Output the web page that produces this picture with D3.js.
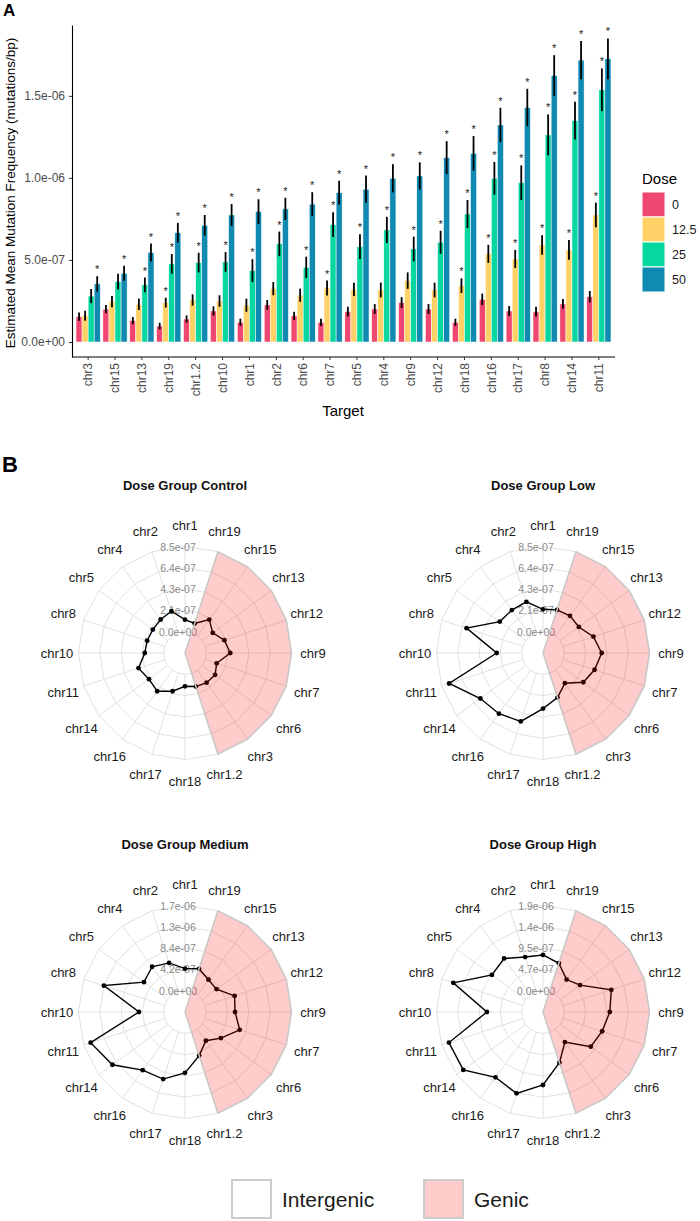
<!DOCTYPE html>
<html lang="en">
<head>
<meta charset="UTF-8">
<title>Mutation frequency by dose</title>
<script src="https://cdn.jsdelivr.net/npm/d3@7"></script>
<style>
  body { margin: 0; background: #fff; font-family: "Liberation Sans", Arial, sans-serif; }
  svg text { font-family: "Liberation Sans", Arial, sans-serif; }
</style>
</head>
<body>
<script>
// ---- data (frequencies in units of 1e-7 mutations/bp) ----
const unit = 1e-7;
const targets = ["chr3","chr15","chr13","chr19","chr1.2","chr10","chr1","chr2","chr6","chr7",
                 "chr5","chr4","chr9","chr12","chr18","chr16","chr17","chr8","chr14","chr11"];
const doses = ["0", "12.5", "25", "50"];
const doseColors = ["#EF476F", "#FFD166", "#06D6A0", "#118AB2"];

const freq0  = [1.54, 2.00, 1.30, 0.97, 1.40, 1.89, 1.20, 2.26, 1.59, 1.20, 1.85, 2.01, 2.40, 2.01, 1.20, 2.60, 1.89, 1.85, 2.32, 2.76];
const freq12 = [1.60, 2.46, 2.30, 2.40, 2.56, 2.50, 2.24, 3.25, 2.85, 3.29, 3.21, 3.17, 3.74, 3.17, 3.43, 5.37, 5.06, 5.91, 5.61, 7.74];
const freq25 = [2.80, 3.68, 3.48, 4.76, 4.84, 4.88, 4.35, 5.98, 4.55, 7.15, 5.81, 6.83, 5.67, 6.08, 7.80, 9.98, 9.71, 12.62, 13.49, 15.37];
const freq50 = [3.54, 4.19, 5.45, 6.66, 7.11, 7.74, 7.95, 8.11, 8.40, 9.10, 9.31, 9.98, 10.12, 11.24, 11.50, 13.23, 14.29, 16.24, 17.18, 17.26];

const err0  = [0.25, 0.25, 0.22, 0.20, 0.22, 0.28, 0.22, 0.30, 0.25, 0.22, 0.30, 0.30, 0.33, 0.30, 0.22, 0.35, 0.30, 0.30, 0.30, 0.35];
const err12 = [0.30, 0.35, 0.35, 0.30, 0.35, 0.35, 0.40, 0.40, 0.40, 0.45, 0.40, 0.45, 0.50, 0.45, 0.45, 0.55, 0.55, 0.60, 0.60, 0.75];
const err25 = [0.43, 0.48, 0.45, 0.60, 0.60, 0.60, 0.70, 0.75, 0.65, 0.75, 0.75, 0.80, 0.75, 0.70, 0.85, 1.00, 1.05, 1.25, 1.15, 1.30];
const err50 = [0.47, 0.46, 0.55, 0.60, 0.63, 0.67, 0.75, 0.68, 0.73, 0.73, 0.83, 0.86, 0.83, 1.00, 1.05, 1.05, 1.14, 1.24, 1.17, 1.24];

// 1 = significant (asterisk)
const sig0  = [0,0,0,0,0,0,0,0,0,0,0,0,0,0,0,0,0,0,0,0];
const sig12 = [0,0,0,1,0,0,0,0,0,1,0,0,0,0,1,1,1,1,1,1];
const sig25 = [0,0,1,1,1,1,1,1,1,1,1,1,1,1,1,1,1,1,1,1];
const sig50 = [1,1,1,1,1,1,1,1,1,1,1,1,1,1,1,1,1,1,1,1];

const yTicks = [0, 5e-7, 1e-6, 1.5e-6];

// radar panels
const radarAxes = ["chr1","chr19","chr15","chr13","chr12","chr9","chr7","chr6","chr3","chr1.2",
                   "chr18","chr17","chr16","chr14","chr11","chr10","chr8","chr5","chr4","chr2"];
const genicTargets = ["chr19","chr15","chr13","chr12","chr9","chr7","chr6","chr3","chr1.2"];
const groupNames = ["Control", "Low", "Medium", "High"];
const radarMax = [8.52e-7, 8.52e-7, 1.68e-6, 1.895e-6];
const regionLabels = ["Intergenic", "Genic"];

const barSeries = [freq0, freq12, freq25, freq50];
const errSeries = [err0, err12, err25, err50];
const sigSeries = [sig0, sig12, sig25, sig50];

// ---- helpers ----
const fmtE = v => v.toExponential(1).replace(/e([+-])(\d)$/, "e$10$2");

const svg = d3.select("body").append("svg")
  .attr("width", 700).attr("height", 1221);

// ================= Panel A =================
svg.append("text").attr("x", 3).attr("y", 16)
  .attr("font-size", 17).attr("font-weight", "bold").text("A");

const x = d3.scaleBand().domain(targets).range([72, 615])
  .paddingInner(0.1).paddingOuter(0.15);
const xd = d3.scaleBand().domain(doses).range([0, x.bandwidth()]);
const y = d3.scaleLinear().domain([-0.0915e-6, 1.932e-6]).range([357, 25]);

const bars = [];
targets.forEach((t, i) => doses.forEach((d, j) => bars.push({
  t, d, c: doseColors[j],
  v: barSeries[j][i] * unit,
  e: errSeries[j][i] * unit,
  sig: sigSeries[j][i]
})));

const gA = svg.append("g");

gA.selectAll("rect.bar").data(bars).join("rect")
  .attr("class", "bar")
  .attr("x", d => x(d.t) + xd(d.d))
  .attr("width", xd.bandwidth())
  .attr("y", d => y(d.v))
  .attr("height", d => y(0) - y(d.v))
  .attr("fill", d => d.c)
  .attr("stroke", "#fff").attr("stroke-width", 0.5);

gA.selectAll("line.err").data(bars).join("line")
  .attr("class", "err")
  .attr("x1", d => x(d.t) + xd(d.d) + xd.bandwidth() / 2)
  .attr("x2", d => x(d.t) + xd(d.d) + xd.bandwidth() / 2)
  .attr("y1", d => y(d.v - d.e))
  .attr("y2", d => y(d.v + d.e))
  .attr("stroke", "#000").attr("stroke-width", 1.8);

gA.selectAll("text.star").data(bars.filter(d => d.sig)).join("text")
  .attr("class", "star")
  .attr("x", d => x(d.t) + xd(d.d) + xd.bandwidth() / 2)
  .attr("y", d => y(d.v + d.e) - 3)
  .attr("text-anchor", "middle")
  .attr("font-size", 11).attr("fill", "#222")
  .text("*");

const yAxis = gA.append("g").attr("transform", "translate(72,0)")
  .call(d3.axisLeft(y).tickValues(yTicks).tickFormat(fmtE).tickSize(3).tickSizeOuter(0).tickPadding(4));
yAxis.select(".domain").attr("stroke", "#000").attr("stroke-width", 1.1);
yAxis.selectAll(".tick line").attr("stroke", "#333");
yAxis.selectAll(".tick text").attr("fill", "#4d4d4d").attr("font-size", 12);

const xAxis = gA.append("g").attr("transform", "translate(0,357)")
  .call(d3.axisBottom(x).tickSize(3).tickSizeOuter(0));
xAxis.select(".domain").attr("stroke", "#000").attr("stroke-width", 1.1)
  .attr("d", "M72,0H615");
xAxis.selectAll(".tick line").attr("stroke", "#333");
xAxis.selectAll(".tick text")
  .attr("transform", "rotate(-90)")
  .attr("x", -6).attr("y", 0).attr("dy", "0.35em")
  .attr("text-anchor", "end")
  .attr("fill", "#4d4d4d").attr("font-size", 12);

svg.append("text").attr("x", 343).attr("y", 410)
  .attr("text-anchor", "middle").attr("dominant-baseline", "central")
  .attr("font-size", 15).attr("fill", "#000").text("Target");

svg.append("text")
  .attr("transform", "translate(10,193) rotate(-90)")
  .attr("text-anchor", "middle").attr("dominant-baseline", "central")
  .attr("font-size", 13.5).attr("fill", "#000")
  .text("Estimated Mean Mutation Frequency (mutations/bp)");

// legend
const leg = svg.append("g").attr("transform", "translate(642,0)");
leg.append("text").attr("x", 0).attr("y", 178).attr("dominant-baseline", "central")
  .attr("font-size", 15).text("Dose");
leg.selectAll("rect").data(doses).join("rect")
  .attr("x", 0).attr("y", (d, i) => 192 + i * 25)
  .attr("width", 23).attr("height", 25)
  .attr("fill", (d, i) => doseColors[i])
  .attr("stroke", "#fff").attr("stroke-width", 1);
leg.selectAll("text.lab").data(doses).join("text")
  .attr("class", "lab")
  .attr("x", 30).attr("y", (d, i) => 192 + i * 25 + 12.5)
  .attr("dominant-baseline", "central")
  .attr("font-size", 12.5).attr("fill", "#1a1a1a")
  .text(d => d);

// ================= Panel B =================
svg.append("text").attr("x", 2).attr("y", 472)
  .attr("font-size", 22).attr("font-weight", "bold").text("B");

const R = 106.5;
const step = 2 * Math.PI / radarAxes.length;
const centers = [[185, 653], [543, 653], [185, 1012], [543, 1012]];

function drawRadar(j) {
  const [cx, cy] = centers[j];
  const maxV = radarMax[j];
  const r = d3.scaleLinear().domain([-maxV / 4, maxV]).range([0, R]);
  const ticks = d3.range(5).map(k => k * maxV / 4);
  const vals = radarAxes.map(a => barSeries[j][targets.indexOf(a)] * unit);
  const g = svg.append("g").attr("transform", `translate(${cx},${cy})`);

  svg.append("text").attr("x", cx).attr("y", cy - 168)
    .attr("text-anchor", "middle").attr("dominant-baseline", "central")
    .attr("font-size", 13).attr("font-weight", "bold").attr("fill", "#111")
    .text("Dose Group " + groupNames[j]);

  const ring = d3.lineRadial().angle((d, i) => i * step).radius(d => d)
    .curve(d3.curveLinearClosed);

  g.selectAll("path.ring").data(ticks).join("path")
    .attr("class", "ring")
    .attr("d", t => ring(radarAxes.map(() => r(t))))
    .attr("fill", "none").attr("stroke", "#d9d9d9").attr("stroke-width", 0.8);

  g.selectAll("line.spoke").data(radarAxes).join("line")
    .attr("class", "spoke")
    .attr("x1", (d, i) => r(0) * Math.sin(i * step))
    .attr("y1", (d, i) => -r(0) * Math.cos(i * step))
    .attr("x2", (d, i) => R * Math.sin(i * step))
    .attr("y2", (d, i) => -R * Math.cos(i * step))
    .attr("stroke", "#d9d9d9").attr("stroke-width", 0.8);

  g.selectAll("text.tick").data(ticks).join("text")
    .attr("class", "tick")
    .attr("x", -7).attr("y", t => -r(t))
    .attr("text-anchor", "middle").attr("dominant-baseline", "central")
    .attr("font-size", 10.5).attr("fill", "#8a8a8a")
    .text(fmtE);

  const line = d3.lineRadial().angle((d, i) => i * step).radius(d => r(d))
    .curve(d3.curveLinearClosed);
  g.append("path").attr("d", line(vals))
    .attr("fill", "none").attr("stroke", "#000").attr("stroke-width", 1.4);
  g.selectAll("circle").data(vals).join("circle")
    .attr("cx", (d, i) => r(d) * Math.sin(i * step))
    .attr("cy", (d, i) => -r(d) * Math.cos(i * step))
    .attr("r", 2.4).attr("fill", "#000");

  // genic wedge overlay
  const idx = genicTargets.map(t => radarAxes.indexOf(t));
  const wedge = [[0, 0]].concat(idx.map(i => [i * step, R]), [[0, 0]]);
  g.append("path")
    .attr("d", d3.lineRadial().angle(d => d[0]).radius(d => d[1])(wedge) + "Z")
    .attr("fill", "rgba(255,0,0,0.2)")
    .attr("stroke", "#c8c8c8").attr("stroke-width", 1.5);

  g.selectAll("text.axis").data(radarAxes).join("text")
    .attr("class", "axis")
    .attr("x", (d, i) => 128 * Math.sin(i * step))
    .attr("y", (d, i) => -128 * Math.cos(i * step))
    .attr("text-anchor", "middle").attr("dominant-baseline", "central")
    .attr("font-size", 13).attr("fill", "#1a1a1a")
    .text(d => d);
}
groupNames.forEach((n, j) => drawRadar(j));

// bottom legend
const legB = svg.append("g");
const legX = [232, 424];
legB.selectAll("rect").data(regionLabels).join("rect")
  .attr("x", (d, i) => legX[i]).attr("y", 1180)
  .attr("width", 39).attr("height", 38)
  .attr("fill", (d, i) => i ? "rgba(255,0,0,0.2)" : "#fff")
  .attr("stroke", "#cccccc").attr("stroke-width", 2);
legB.selectAll("text").data(regionLabels).join("text")
  .attr("x", (d, i) => legX[i] + 50).attr("y", 1199)
  .attr("dominant-baseline", "central")
  .attr("font-size", 21).attr("fill", "#1a1a1a")
  .text(d => d);
</script>
</body>
</html>
